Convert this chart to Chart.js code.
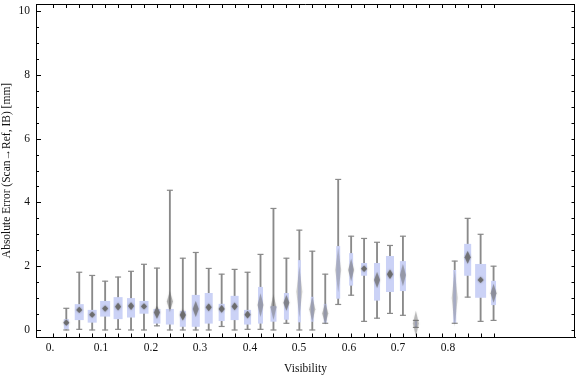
<!DOCTYPE html>
<html>
<head>
<meta charset="utf-8">
<script src="https://cdn.jsdelivr.net/npm/chart.js@4"></script>
<style>
  html, body { margin: 0; padding: 0; background: #fff; }
</style>
</head>
<body>
<canvas id="chart" width="576" height="377"></canvas>
<script>
// **Data (one entry per box, null = empty bin)

let slots = [1, 2, 3, 4, 5, 6, 7, 8, 9, 10, 11, 12, 13, 14, 15, 16, 17, 18, 19, 20, 21, 22, 23, 24, 25, 26, 27, 28, 29, 30, 31, 32, 33, 34];

let whiskerLo = [0, 0.02, 0, 0, 0.02, 0, 0, 0.13, 0, 0, 0, 0, 0.11, 0, 0.02, 0.02, 0, 0.21, 0, 0, 0.21, 0.8, 1.09, 0.27, 0.37, 0.52, 0.46, 0.08, null, null, 0.21, 1.03, 0.27, 0.3];
let whiskerHi = [0.68, 1.81, 1.71, 1.53, 1.66, 1.84, 2.06, 1.94, 4.38, 2.25, 2.43, 1.93, 1.75, 1.9, 1.81, 2.37, 3.81, 2.25, 3.13, 2.47, 1.75, 4.72, 2.94, 2.87, 2.75, 2.65, 2.94, 0.3, null, null, 2.16, 3.5, 3.0, 2.0];

let boxLo = [0.02, 0.31, 0.23, 0.42, 0.34, 0.39, 0.51, 0.2, 0.17, 0.1, 0.1, 0.2, 0.28, 0.31, 0.17, 0.2, 0.26, 0.32, 0.24, 0.26, 0.22, 0.98, 1.39, 1.7, 0.92, 1.19, 1.22, 0.1, null, null, 0.21, 1.7, 1.01, 0.78];
let boxHi = [0.34, 0.81, 0.63, 0.91, 1.03, 1.0, 0.91, 0.66, 0.66, 0.6, 1.1, 1.16, 0.82, 1.07, 0.63, 1.35, 0.75, 1.16, 2.19, 1.04, 0.82, 2.63, 2.41, 2.1, 2.1, 2.32, 2.16, 0.28, null, null, 1.88, 2.7, 2.07, 1.54];

// relative sample weight, drives box width
let boxWeight = [0.45, 0.82, 0.82, 0.91, 0.82, 0.73, 0.82, 0.64, 0.73, 0.55, 0.73, 0.73, 0.55, 0.73, 0.64, 0.45, 0.55, 0.45, 0.27, 0.27, 0.27, 0.36, 0.36, 0.55, 0.55, 0.73, 0.55, 0.18, null, null, 0.27, 0.64, 1.0, 0.45];

// mean diamond: centre and confidence range
let meanVal = [0.23, 0.63, 0.48, 0.67, 0.73, 0.75, 0.74, 0.55, 0.89, 0.47, 0.66, 0.71, 0.66, 0.74, 0.48, 0.78, 0.71, 0.85, 1.2, 0.65, 0.52, 1.88, 1.88, 1.92, 1.57, 1.75, 1.72, 0.2, null, null, 1.0, 2.28, 1.57, 1.15];
let meanLo = [0.13, 0.53, 0.38, 0.57, 0.61, 0.63, 0.64, 0.35, 0.56, 0.3, 0.41, 0.59, 0.54, 0.62, 0.36, 0.41, 0.31, 0.6, 0.4, 0.25, 0.17, 1.18, 1.53, 1.82, 1.32, 1.6, 1.37, -0.2, null, null, 0.1, 2.08, 1.47, 0.85];
let meanHi = [0.33, 0.73, 0.58, 0.77, 0.85, 0.87, 0.84, 0.75, 1.22, 0.64, 0.91, 0.83, 0.78, 0.86, 0.6, 1.15, 1.11, 1.1, 2.0, 1.05, 0.87, 2.58, 2.23, 2.02, 1.82, 1.9, 2.07, 0.6, null, null, 1.9, 2.48, 1.67, 1.45];

// axis ticks
let xTickSlots = [0, 1, 2, 3, 4, 5, 6, 7, 8, 9, 10, 11, 12, 13, 14, 15, 16, 17, 18, 19, 20, 21, 22, 23, 24, 25, 26, 27, 28, 29, 30, 31, 32, 33, 34];
let xLabels = ['0.', '0.1', '0.2', '0.3', '0.4', '0.5', '0.6', '0.7', '0.8'];
let xLabelPos = [-0.25, 3.68, 7.54, 11.33, 15.19, 18.97, 22.83, 26.62, 30.48];
let yTickVals = [0, 0.5, 1, 1.5, 2, 2.5, 3, 3.5, 4, 4.5, 5, 5.5, 6, 6.5, 7, 7.5, 8, 8.5, 9, 9.5, 10];

// **Styles

const serif = { family: 'Liberation Serif', size: 11.5 };
const textColor = '#111';
const whiskerColor = '#8a8a8a';
const boxColor = 'rgb(203,210,246)';

// **Build datasets

let whiskerData = [];
let capData = [];
slots.forEach((s, i) => {
  if (whiskerLo[i] === null) return;
  whiskerData.push({ x: s, y: [whiskerLo[i], whiskerHi[i]] });
  capData.push({ x: s, y: whiskerLo[i] }, { x: s, y: whiskerHi[i] });
});

// one bar dataset per box width
let boxGroups = {};
slots.forEach((s, i) => {
  if (boxLo[i] === null) return;
  let key = boxWeight[i];
  if (!boxGroups[key]) boxGroups[key] = [];
  boxGroups[key].push({ x: s, y: [boxLo[i], boxHi[i]] });
});

let datasets = [
  {
    type: 'scatter',
    data: capData,
    pointStyle: 'line',
    radius: 3,
    borderWidth: 1.2,
    borderColor: whiskerColor,
    order: 1
  },
  {
    type: 'bar',
    data: whiskerData,
    backgroundColor: whiskerColor,
    barThickness: 1.2,
    grouped: false,
    order: 3
  }
];

Object.keys(boxGroups).forEach(key => {
  datasets.push({
    type: 'bar',
    data: boxGroups[key],
    backgroundColor: boxColor,
    grouped: false,
    categoryPercentage: 1,
    barPercentage: Number(key) * 0.85,
    order: 2
  });
});

// **Plugins

// mean diamonds, placed through the chart scales
const meanDiamonds = {
  id: 'meanDiamonds',
  afterDatasetsDraw(chart) {
    const { ctx, chartArea, scales: { x, y } } = chart;
    ctx.save();
    ctx.beginPath();
    ctx.rect(chartArea.left, chartArea.top, chartArea.right - chartArea.left, chartArea.bottom - chartArea.top);
    ctx.clip();
    slots.forEach((s, i) => {
      if (meanVal[i] === null) return;
      let cx = x.getPixelForValue(s);
      let cy = y.getPixelForValue(meanVal[i]);
      let top = y.getPixelForValue(meanHi[i]);
      let bot = y.getPixelForValue(meanLo[i]);
      let half = (bot - top) / 2;
      let alpha = Math.max(0.3, Math.min(0.9, 5 / half));
      ctx.fillStyle = `rgba(105,105,105,${alpha})`;
      ctx.shadowColor = `rgba(105,105,105,${alpha})`;
      ctx.shadowBlur = 2;
      ctx.beginPath();
      ctx.moveTo(cx, top);
      ctx.lineTo(cx + 3, cy);
      ctx.lineTo(cx, bot);
      ctx.lineTo(cx - 3, cy);
      ctx.closePath();
      ctx.fill();
    });
    ctx.restore();
  }
};

// top/right frame and inward tick marks
const frameTicks = {
  id: 'frameTicks',
  afterDraw(chart) {
    const { ctx, chartArea: a, scales: { x, y } } = chart;
    ctx.save();
    ctx.strokeStyle = '#000';
    ctx.lineWidth = 1;
    ctx.beginPath();
    ctx.moveTo(a.left, a.top + 0.5);
    ctx.lineTo(a.right, a.top + 0.5);
    ctx.moveTo(a.right - 0.5, a.top);
    ctx.lineTo(a.right - 0.5, a.bottom);
    xTickSlots.forEach(s => {
      let px = Math.round(x.getPixelForValue(s)) + 0.5;
      ctx.moveTo(px, a.bottom);
      ctx.lineTo(px, a.bottom - 3.5);
      ctx.moveTo(px, a.top);
      ctx.lineTo(px, a.top + 4);
    });
    yTickVals.forEach(v => {
      let py = Math.round(y.getPixelForValue(v)) + 0.5;
      let len = v % 2 === 0 ? 5 : 3;
      ctx.moveTo(a.left, py);
      ctx.lineTo(a.left + len, py);
      ctx.moveTo(a.right, py);
      ctx.lineTo(a.right - 3.5, py);
    });
    ctx.stroke();
    ctx.restore();
  }
};

// no extra label padding so the plot frame stays where it is
function clearPadding(scale) {
  scale.paddingLeft = 0;
  scale.paddingRight = 0;
  scale.paddingTop = 0;
  scale.paddingBottom = 0;
}

// **Chart

new Chart(document.getElementById('chart'), {
  type: 'bar',
  data: { datasets: datasets },
  plugins: [meanDiamonds, frameTicks],
  options: {
    responsive: false,
    animation: false,
    layout: { autoPadding: false, padding: { top: 4, right: 1, left: 0, bottom: 0 } },
    plugins: {
      legend: { display: false },
      tooltip: { enabled: false }
    },
    scales: {
      x: {
        type: 'linear',
        offset: false,
        min: -1.34,
        max: 40.29,
        afterBuildTicks: (scale) => { scale.ticks = xLabelPos.map(v => ({ value: v })); },
        afterFit: (scale) => { scale.height = 40; clearPadding(scale); },
        ticks: {
          autoSkip: false,
          maxRotation: 0,
          padding: 4,
          font: serif,
          color: textColor,
          callback: (value, index) => xLabels[index]
        },
        grid: { display: false, drawTicks: false, offset: false },
        border: { display: true, color: '#000', width: 1 },
        title: { display: true, text: 'Visibility', font: serif, color: textColor, padding: { top: 0, bottom: 1 } }
      },
      y: {
        min: -0.22,
        max: 10.22,
        afterBuildTicks: (scale) => { scale.ticks = yTickVals.map(v => ({ value: v })); },
        afterFit: (scale) => { scale.width = 36; clearPadding(scale); },
        ticks: {
          autoSkip: false,
          padding: 6,
          font: serif,
          color: textColor,
          callback: (value) => (value % 2 === 0 ? String(value) : '')
        },
        grid: { display: false, drawTicks: false },
        border: { display: true, color: '#000', width: 1 },
        title: { display: true, text: 'Absolute Error (Scan\u2192Ref, IB) [mm]', font: { family: 'Liberation Serif', size: 11.5 }, color: textColor, padding: 0 }
      }
    }
  }
});
</script>
</body>
</html>
